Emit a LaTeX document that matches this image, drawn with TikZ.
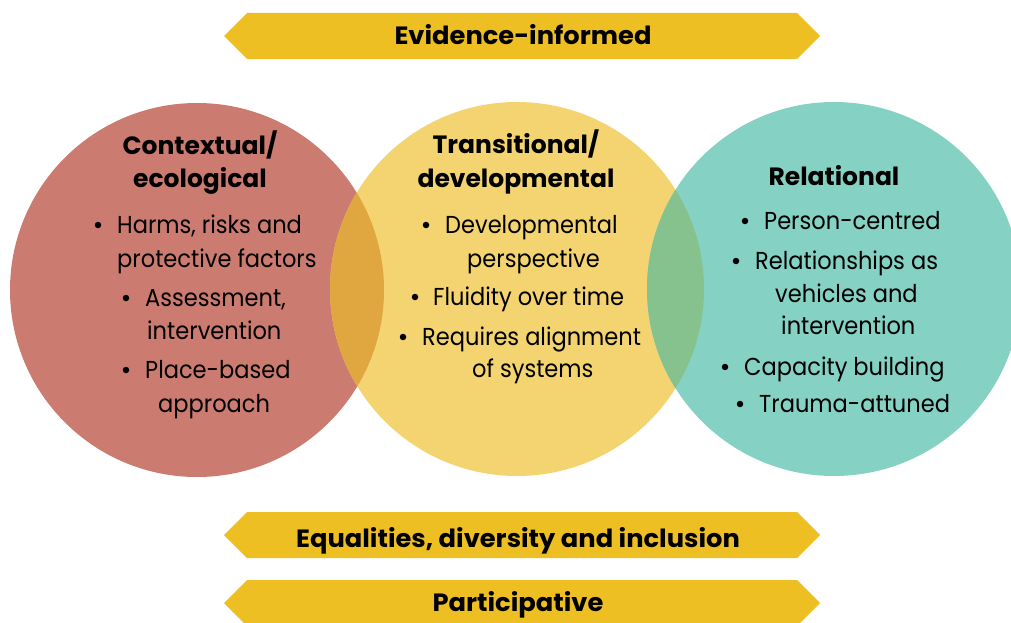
\documentclass[tikz,border=0pt]{standalone}
\usepackage{fontspec}
\setmainfont{Poppins}
\newfontfamily\bodyf[FakeStretch=0.92]{Poppins}
\newfontfamily\headf[FakeStretch=1.0]{Poppins Bold}
\newfontfamily\banf[FakeStretch=1.03]{Poppins Bold}
\definecolor{cred}{HTML}{CB7B6F}
\definecolor{cyel}{HTML}{F3D470}
\definecolor{cteal}{HTML}{85D1C3}
\definecolor{cry}{HTML}{E0A640}
\definecolor{cyt}{HTML}{86C28E}
\definecolor{cban}{HTML}{EEBF22}
\tikzset{
  body/.style={anchor=base west, inner sep=0pt, font=\bodyf\fontsize{24.5}{28}\selectfont},
  head/.style={anchor=base, inner sep=0pt, font=\headf\fontsize{25}{28}\selectfont},
  bantext/.style={anchor=base, inner sep=0pt, font=\banf\fontsize{25}{28}\selectfont},
  dot/.style={circle, fill=black, minimum size=6.5pt, inner sep=0pt},
  banner/.style={fill=cban},
}
\begin{document}
\begin{tikzpicture}[x=1pt,y=-1pt]
\useasboundingbox (0,0) rectangle (1011,623);
\coordinate (cA) at (197,290);
\coordinate (cB) at (517,289);
\coordinate (cC) at (834,289);
\def\R{187}
% circles
\fill[cred] (cA) circle (\R);
\fill[cyel] (cB) circle (\R);
\fill[cteal] (cC) circle (\R);
\begin{scope}
  \clip (cA) circle (\R);
  \fill[cry] (cB) circle (\R);
\end{scope}
\begin{scope}
  \clip (cB) circle (\R);
  \fill[cyt] (cC) circle (\R);
\end{scope}
% banners
\foreach \y in {36, 535, 603}{
  \fill[banner] (224,\y) -- ++(23,-23) -- (797,\y-23) -- (820,\y) -- (797,\y+23) -- (247,\y+23) -- cycle;
}
\node[bantext] (t1) at (523,45) {Evidence-informed};
\node[bantext] (t2) at (518,547) {Equalities, diversity and inclusion};
\node[bantext] (t3) at (518,611) {Participative};
% left circle
\node[head] (a0) at (200,154) {Contextual/};
\node[head] (a1) at (200,187) {ecological};
\node[dot] (ad1) at (98,225) {};
\node[body] (a2) at (117,233) {Harms, risks and};
\node[body] (a3) at (117,267) {protective factors};
\node[dot] (ad2) at (126,298) {};
\node[body] (a4) at (145,306) {Assessment,};
\node[body] (a5) at (147,339) {intervention};
\node[dot] (ad3) at (126,370) {};
\node[body] (a6) at (145,378) {Place-based};
\node[body] (a7) at (158,412) {approach};
% middle circle
\node[head] (m0) at (516,153) {Transitional/};
\node[head] (m1) at (516,187) {developmental};
\node[dot] (md1) at (426,225) {};
\node[body] (m2) at (445,233) {Developmental};
\node[body] (m3) at (467,267) {perspective};
\node[dot] (md2) at (415,297) {};
\node[body] (m4) at (433,305) {Fluidity over time};
\node[dot] (md3) at (403,337) {};
\node[body] (m5) at (422,345) {Requires alignment};
\node[body] (m6) at (472,377) {of systems};
% right circle
\node[head] (r0) at (834,185) {Relational};
\node[dot] (rd1) at (745,221) {};
\node[body] (r1) at (764,229) {Person-centred};
\node[dot] (rd2) at (736,261) {};
\node[body] (r2) at (755,269) {Relationships as};
\node[body] (r3) at (775,302) {vehicles and};
\node[body] (r4) at (781,334) {intervention};
\node[dot] (rd3) at (725,367) {};
\node[body] (r5) at (744,375) {Capacity building};
\node[dot] (rd4) at (740,404) {};
\node[body] (r6) at (759,412) {Trauma-attuned};
\end{tikzpicture}
\end{document}
